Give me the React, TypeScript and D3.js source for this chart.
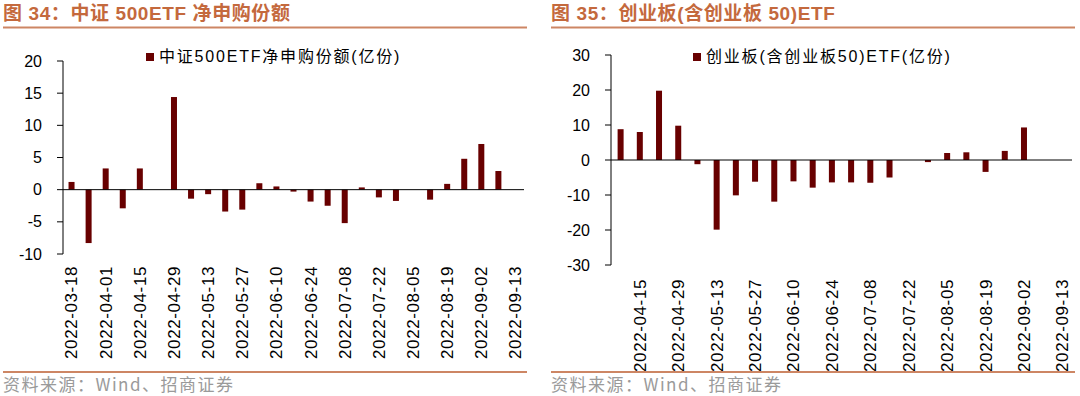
import React from "react";
import * as d3 from "d3";

// 中证500ETF weekly net subscription (亿份)
const leftDates = ["2022-03-18", "2022-03-25", "2022-04-01", "2022-04-08", "2022-04-15", "2022-04-22", "2022-04-29", "2022-05-06", "2022-05-13", "2022-05-20", "2022-05-27", "2022-06-03", "2022-06-10", "2022-06-17", "2022-06-24", "2022-07-01", "2022-07-08", "2022-07-15", "2022-07-22", "2022-07-29", "2022-08-05", "2022-08-12", "2022-08-19", "2022-08-26", "2022-09-02", "2022-09-09", "2022-09-13"];
const leftValues = [1.2, -8.3, 3.3, -2.9, 3.3, 0, 14.4, -1.4, -0.7, -3.4, -3.1, 1.0, 0.5, -0.3, -1.85, -2.5, -5.2, 0.35, -1.2, -1.75, 0, -1.55, 0.9, 4.8, 7.1, 2.9, 0];
const leftTicks = [-10, -5, 0, 5, 10, 15, 20];

// 创业板(含创业板50)ETF (亿份)
const rightDates = ["2022-04-08", "2022-04-15", "2022-04-22", "2022-04-29", "2022-05-06", "2022-05-13", "2022-05-20", "2022-05-27", "2022-06-03", "2022-06-10", "2022-06-17", "2022-06-24", "2022-07-01", "2022-07-08", "2022-07-15", "2022-07-22", "2022-07-29", "2022-08-05", "2022-08-12", "2022-08-19", "2022-08-26", "2022-09-02", "2022-09-09", "2022-09-13"];
const rightValues = [8.8, 8.0, 19.8, 9.8, -1.2, -19.9, -10.1, -6.2, -11.9, -6.1, -7.9, -6.4, -6.4, -6.5, -5.0, 0, -0.6, 2.0, 2.2, -3.4, 2.6, 9.3, 0, 0];
const rightTicks = [-30, -20, -10, 0, 10, 20, 30];

const BAR = "#680000";
const ACCENT = "#c4693d";
const LINE = "#cd8664";
const LATIN = "'Liberation Sans', Arial, 'Noto Sans CJK SC', sans-serif";
const CJK = "'Noto Sans CJK SC', sans-serif";

type PanelProps = {
  x0: number; // left edge of the panel
  title: string;
  legend: string;
  dates: string[];
  values: number[];
  ticks: number[];
  xRange: [number, number];
  yRange: [number, number];
  labelEvery: number; // show label on indices where i % 2 == labelEvery
  legendX: number;
  labelGap: number;
};

function Panel(p: PanelProps) {
  const x = d3.scaleBand<string>().domain(p.dates).range(p.xRange).padding(0);
  const y = d3.scaleLinear()
    .domain([p.ticks[0], p.ticks[p.ticks.length - 1]])
    .range(p.yRange);
  const bw = 6;
  const axisX = p.xRange[0];
  const panelRight = p.x0 + 527;

  return (
    <g>
      {/* title */}
      <text x={p.x0 + 3} y={20} fill={ACCENT} fontFamily={LATIN} fontWeight="bold" fontSize={19} letterSpacing={0.6}>{p.title}</text>
      <line x1={p.x0 + 3} x2={panelRight} y1={27.5} y2={27.5} stroke={LINE} strokeWidth={2} />

      {/* legend */}
      <rect x={p.legendX} y={53} width={8} height={8} fill={BAR} />
      <text x={p.legendX + 13} y={62} fontFamily={LATIN} fontSize={16} letterSpacing={1.8} fill="#000">{p.legend}</text>

      {/* y axis */}
      <line x1={axisX} x2={axisX} y1={y(p.ticks[0])} y2={y(p.ticks[p.ticks.length - 1])} stroke="#000" />
      {p.ticks.map(t => (
        <g key={t}>
          <line x1={axisX - 6} x2={axisX} y1={y(t)} y2={y(t)} stroke="#000" />
          <text x={axisX - 21} y={y(t)} dy="0.35em" textAnchor="end" fontFamily={LATIN} fontSize={16}>{t}</text>
        </g>
      ))}

      {/* bars */}
      {p.values.map((v, i) => (
        <rect key={i}
          x={(x(p.dates[i]) as number) + x.bandwidth() / 2 - bw / 2}
          y={y(Math.max(0, v))}
          width={bw}
          height={Math.abs(y(v) - y(0))}
          fill={BAR} />
      ))}

      {/* zero line */}
      <line x1={p.xRange[0]} x2={p.xRange[1]} y1={y(0)} y2={y(0)} stroke="#000" />

      {/* category labels */}
      {p.dates.map((d, i) => i % 2 !== p.labelEvery ? null : (
        <text key={d}
          transform={`translate(${(x(d) as number) + x.bandwidth() / 2}, ${p.yRange[0] + p.labelGap}) rotate(-90)`}
          dy="0.35em" textAnchor="end" fontFamily={LATIN} fontSize={17} letterSpacing={0.6}>{d}</text>
      ))}

      {/* source */}
      <line x1={p.x0 + 3} x2={panelRight} y1={372} y2={372} stroke={LINE} strokeWidth={2} />
      <text x={p.x0 + 3} y={391} fill="#9a9a9a" fontFamily={CJK} fontSize={17} letterSpacing={1.5}>资料来源：Wind、招商证券</text>
    </g>
  );
}

export default function App() {
  return (
    <svg width={1080} height={396} style={{ position: "absolute", left: 0, top: 0, background: "#fff" }}>
      <Panel x0={0} title="图 34：中证 500ETF 净申购份额" legend="中证500ETF净申购份额(亿份)"
        dates={leftDates} values={leftValues} ticks={leftTicks}
        xRange={[63, 524]} yRange={[254, 61]} labelEvery={0} legendX={146} labelGap={12} />
      <Panel x0={548} title="图 35：创业板(含创业板 50)ETF" legend="创业板(含创业板50)ETF(亿份)"
        dates={rightDates} values={rightValues} ticks={rightTicks}
        xRange={[611, 1072]} yRange={[265, 55]} labelEvery={1} legendX={693} labelGap={14} />
    </svg>
  );
}
